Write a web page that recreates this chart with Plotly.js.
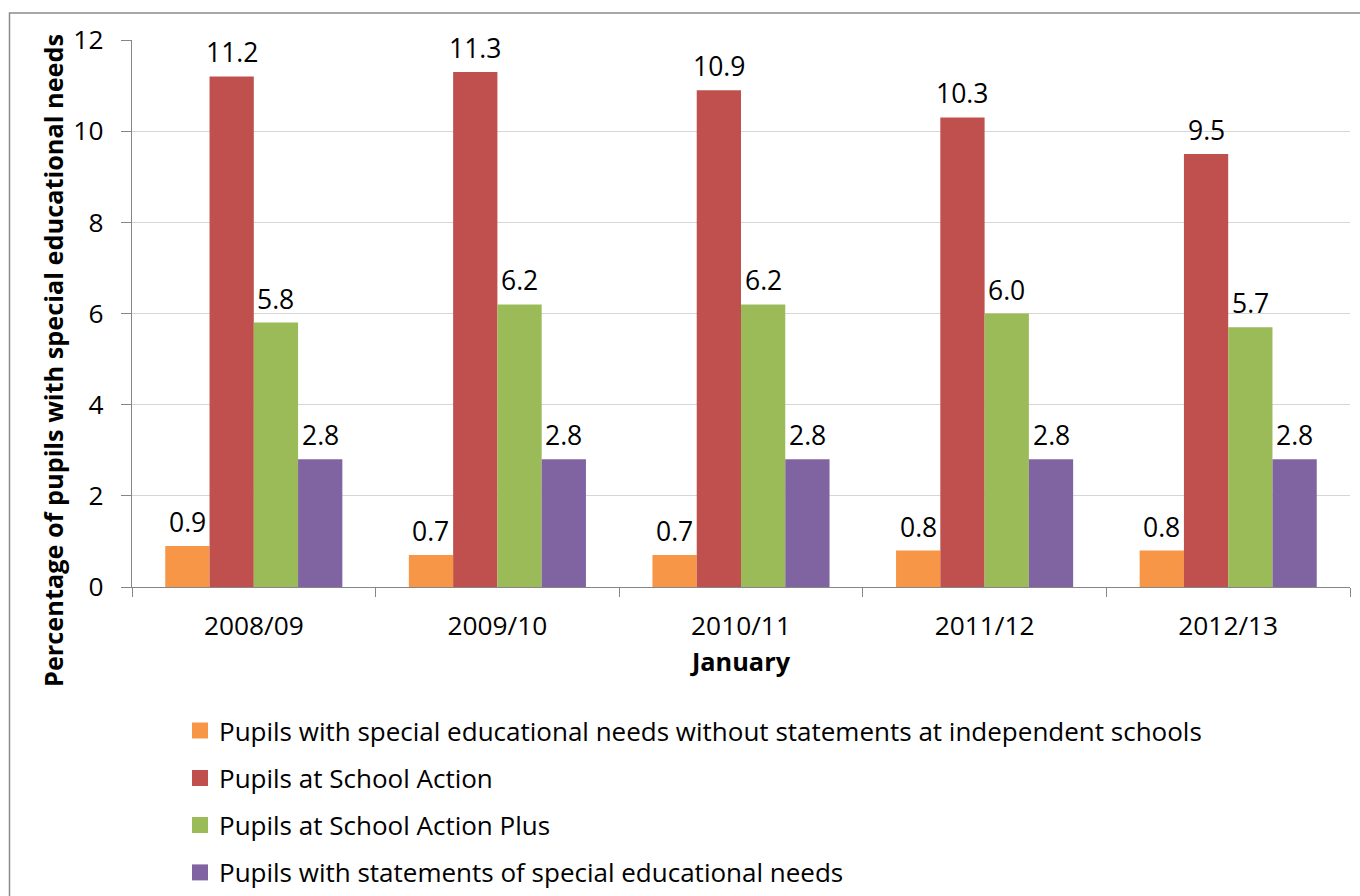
<!DOCTYPE html>
<html>
<head>
<meta charset="utf-8">
<script src="https://cdn.plot.ly/plotly-3.0.1.min.js"></script>
<style>
html,body{margin:0;padding:0;background:#fff;}
#chart{width:1360px;height:896px;}
</style>
</head>
<body>
<div id="chart"></div>
<script>
var categories = ["2008/09", "2009/10", "2010/11", "2011/12", "2012/13"];
var seriesNames = [
  "Pupils with special educational needs without statements at independent schools",
  "Pupils at School Action",
  "Pupils at School Action Plus",
  "Pupils with statements of special educational needs"
];
var independentNoStatement = [0.9, 0.7, 0.7, 0.8, 0.8];
var schoolAction = [11.2, 11.3, 10.9, 10.3, 9.5];
var schoolActionPlus = [5.8, 6.2, 6.2, 6.0, 5.7];
var withStatements = [2.8, 2.8, 2.8, 2.8, 2.8];
var yTicks = [0, 2, 4, 6, 8, 10, 12];
var xTitle = "January";
var yTitle = "Percentage of pupils with special educational needs";

var seriesValues = [independentNoStatement, schoolAction, schoolActionPlus, withStatements];
var colors = ["#F79646", "#C0504D", "#9BBB59", "#8064A2"];
var FONT = "Open Sans, sans-serif";
var bargap = 0.273;

// plot-area geometry in pixels (for converting layout positions to paper coords)
var W = 1360, H = 896, ML = 132, MR = 10, MT = 40, MB = 309;
var PW = W - ML - MR, PH = H - MT - MB;
function px2x(px) { return (px - ML) / PW; }
function px2y(py) { return (H - MB - py) / PH; }

var traces = seriesValues.map(function (vals, i) {
  return {
    type: "bar",
    name: seriesNames[i],
    x: categories,
    y: vals,
    marker: {color: colors[i]},
    showlegend: false,
    hoverinfo: "x+y+name"
  };
});

// data labels positioned from bar geometry
var annotations = [];
var shapes = [];
var nS = seriesValues.length;
var w = (1 - bargap) / nS;
seriesValues.forEach(function (vals, i) {
  vals.forEach(function (v, j) {
    annotations.push({
      x: j + (i - (nS - 1) / 2) * w,
      y: v,
      xref: "x", yref: "y",
      text: v.toFixed(1),
      showarrow: false,
      yanchor: "bottom",
      yshift: 4,
      font: {family: FONT, size: 26.5, color: "#000"}
    });
  });
});

// y-axis title (placed like the original, centred on the chart rather than the axis)
annotations.push({
  xref: "paper", yref: "paper",
  x: px2x(53), y: px2y(361),
  xanchor: "center", yanchor: "middle",
  textangle: -90,
  text: "<b>" + yTitle + "</b>",
  showarrow: false,
  font: {family: FONT, size: 25.3, color: "#000"}
});

// legend below the chart: one row per series
var legendRowsPx = [730.5, 778, 825, 872.4];
var swatchLeft = 192, swatchSize = 16, textLeft = 217;
seriesNames.forEach(function (name, i) {
  var cy = legendRowsPx[i];
  shapes.push({
    type: "rect", xref: "paper", yref: "paper",
    x0: px2x(swatchLeft), x1: px2x(swatchLeft + swatchSize),
    y0: px2y(cy + swatchSize / 2), y1: px2y(cy - swatchSize / 2),
    line: {width: 0},
    fillcolor: colors[i]
  });
  annotations.push({
    xref: "paper", yref: "paper",
    x: px2x(textLeft), y: px2y(cy),
    xanchor: "left", yanchor: "middle",
    text: name,
    showarrow: false,
    font: {family: FONT, size: 26, color: "#000"}
  });
});

// outer chart frame
shapes.push({
  type: "rect", xref: "paper", yref: "paper",
  x0: px2x(9.5), x1: px2x(1400),
  y0: px2y(1000), y1: px2y(13),
  line: {color: "#8a8a8a", width: 1.5},
  fillcolor: "rgba(0,0,0,0)",
  layer: "below"
});

var layout = {
  width: W,
  height: H,
  margin: {l: ML, r: MR, t: MT, b: MB},
  paper_bgcolor: "#fff",
  plot_bgcolor: "#fff",
  font: {family: FONT, color: "#000"},
  barmode: "group",
  bargap: bargap,
  bargroupgap: 0,
  showlegend: false,
  xaxis: {
    type: "category",
    showline: true, linecolor: "#868686", linewidth: 1.3,
    ticks: "outside", tickson: "boundaries", ticklen: 9, tickcolor: "#868686",
    ticklabelstandoff: 15,
    tickfont: {family: FONT, size: 26.3, color: "#000"},
    showgrid: false,
    title: {text: "<b>" + xTitle + "</b>", font: {family: FONT, size: 25.3, color: "#000"}, standoff: 11},
    automargin: false,
    fixedrange: true
  },
  yaxis: {
    range: [0, 12],
    tickvals: yTicks,
    ticktext: yTicks.map(String),
    showline: true, linecolor: "#868686", linewidth: 1.3,
    ticks: "outside", ticklen: 10, tickcolor: "#868686",
    ticklabelstandoff: 12,
    tickfont: {family: FONT, size: 26.3, color: "#000"},
    showgrid: true, gridcolor: "#d6d6d6", gridwidth: 1.3,
    zeroline: false,
    automargin: false,
    fixedrange: true
  },
  annotations: annotations,
  shapes: shapes
};

Plotly.newPlot("chart", traces, layout, {displayModeBar: false, staticPlot: true});
</script>
</body>
</html>
